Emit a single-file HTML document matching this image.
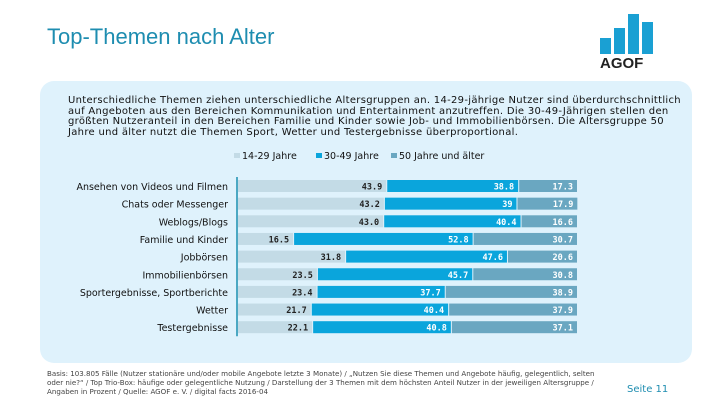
<!DOCTYPE html>
<html><head><meta charset="utf-8"><style>
body{margin:0;width:720px;height:405px;background:#fff;font-family:"DejaVu Sans","Liberation Sans",sans-serif;position:relative;overflow:hidden}
.title{position:absolute;left:47px;top:24px;font-size:22px;color:#1e8db0;font-family:"Liberation Sans",sans-serif}
.panel{position:absolute;left:40px;top:81px;width:652px;height:282px;background:#dff2fc;border-radius:14px}
.intro{position:absolute;left:68px;top:96px;font-size:10px;line-height:10.5px;color:#111;letter-spacing:0.3px;white-space:nowrap}
.foot{position:absolute;left:47px;top:369px;font-size:7.1px;line-height:9px;color:#444;white-space:nowrap}
.page{position:absolute;left:627px;top:384px;font-size:10px;color:#1e8db0}
</style></head><body>
<div class="title">Top-Themen nach Alter</div>
<svg style="position:absolute;left:600px;top:14px" width="62" height="56">
<rect x="0" y="24" width="11" height="16" fill="#1aa0d3"/><rect x="14" y="14" width="11" height="26" fill="#1aa0d3"/><rect x="28" y="0" width="11" height="40" fill="#1aa0d3"/><rect x="42" y="8" width="11" height="32" fill="#1aa0d3"/>
<text x="0" y="54" font-size="15" font-weight="bold" fill="#222" font-family="Liberation Sans">AGOF</text></svg>
<div class="panel"></div>
<div class="intro">Unterschiedliche Themen ziehen unterschiedliche Altersgruppen an. 14-29-jährige Nutzer sind überdurchschnittlich<br>auf Angeboten aus den Bereichen Kommunikation und Entertainment anzutreffen. Die 30-49-Jährigen stellen den<br>größten Nutzeranteil in den Bereichen Familie und Kinder sowie Job- und Immobilienbörsen. Die Altersgruppe 50<br>Jahre und älter nutzt die Themen Sport, Wetter und Testergebnisse überproportional.</div>
<svg id="chart" style="position:absolute;left:0;top:0" width="720" height="405"></svg>
<div class="foot">Basis: 103.805 Fälle (Nutzer stationäre und/oder mobile Angebote letzte 3 Monate) / „Nutzen Sie diese Themen und Angebote häufig, gelegentlich, selten<br>oder nie?“ / Top Trio-Box: häufige oder gelegentliche Nutzung / Darstellung der 3 Themen mit dem höchsten Anteil Nutzer in der jeweiligen Altersgruppe /<br>Angaben in Prozent / Quelle: AGOF e. V. / digital facts 2016-04</div>
<div class="page">Seite 11</div>
<script>
const categories=["Ansehen von Videos und Filmen","Chats oder Messenger","Weblogs/Blogs","Familie und Kinder","Jobbörsen","Immobilienbörsen","Sportergebnisse, Sportberichte","Wetter","Testergebnisse"];
const young=[43.9,43.2,43.0,16.5,31.8,23.5,23.4,21.7,22.1];
const mid=[38.8,39,40.4,52.8,47.6,45.7,37.7,40.4,40.8];
const old=[17.3,17.9,16.6,30.7,20.6,30.8,38.9,37.9,37.1];
const youngLabels=["43.9","43.2","43.0","16.5","31.8","23.5","23.4","21.7","22.1"];
const seriesNames=["14-29 Jahre","30-49 Jahre","50 Jahre und älter"];
const colors=["#c3dbe6","#0aa5dc","#6aa7c1"];
const ns="http://www.w3.org/2000/svg",svg=document.getElementById('chart');
const x0=238,W=340,y0=186,step=17.65,bh=12;
const xs=v=>v/100*W;
function mk(t,a){const e=document.createElementNS(ns,t);for(const k in a)e.setAttribute(k,a[k]);svg.appendChild(e);return e;}
const lx=[234,316,391];
seriesNames.forEach((n,i)=>{
 const r=mk('rect',{x:lx[i],y:153,width:6,height:5,fill:colors[i]});
 
 
 const t=mk('text',{x:lx[i]+8,y:159,'font-size':9.5,fill:'#111'});t.textContent=n;
 
 
});
categories.forEach((c,i)=>{
 const y=y0+i*step;
 const t=mk('text',{x:228,y:y+4,'text-anchor':'end','font-size':9.5,fill:'#111'});t.textContent=c;
 
 
 let acc=0;
 [young[i],mid[i],old[i]].forEach((v,s)=>{
  const r=mk('rect',{x:x0+xs(acc),y:y-bh/2,width:xs(v)-1,height:bh,fill:colors[s]});
  
  
  acc+=v;
  const l=mk('text',{x:x0+xs(acc)-5,y:y+3.5,'text-anchor':'end','font-size':8.5,'font-weight':'bold',fill:s==0?'#222':'#fff','font-family':'DejaVu Sans Mono,monospace'});
  l.textContent=s==0?youngLabels[i]:String(v);
  
  
 });
});
const ax=mk('line',{x1:x0-1,x2:x0-1,y1:y0-9,y2:y0+8*step+9,stroke:'#1a8fb0','stroke-width':1.5});


</script>
</body></html>
